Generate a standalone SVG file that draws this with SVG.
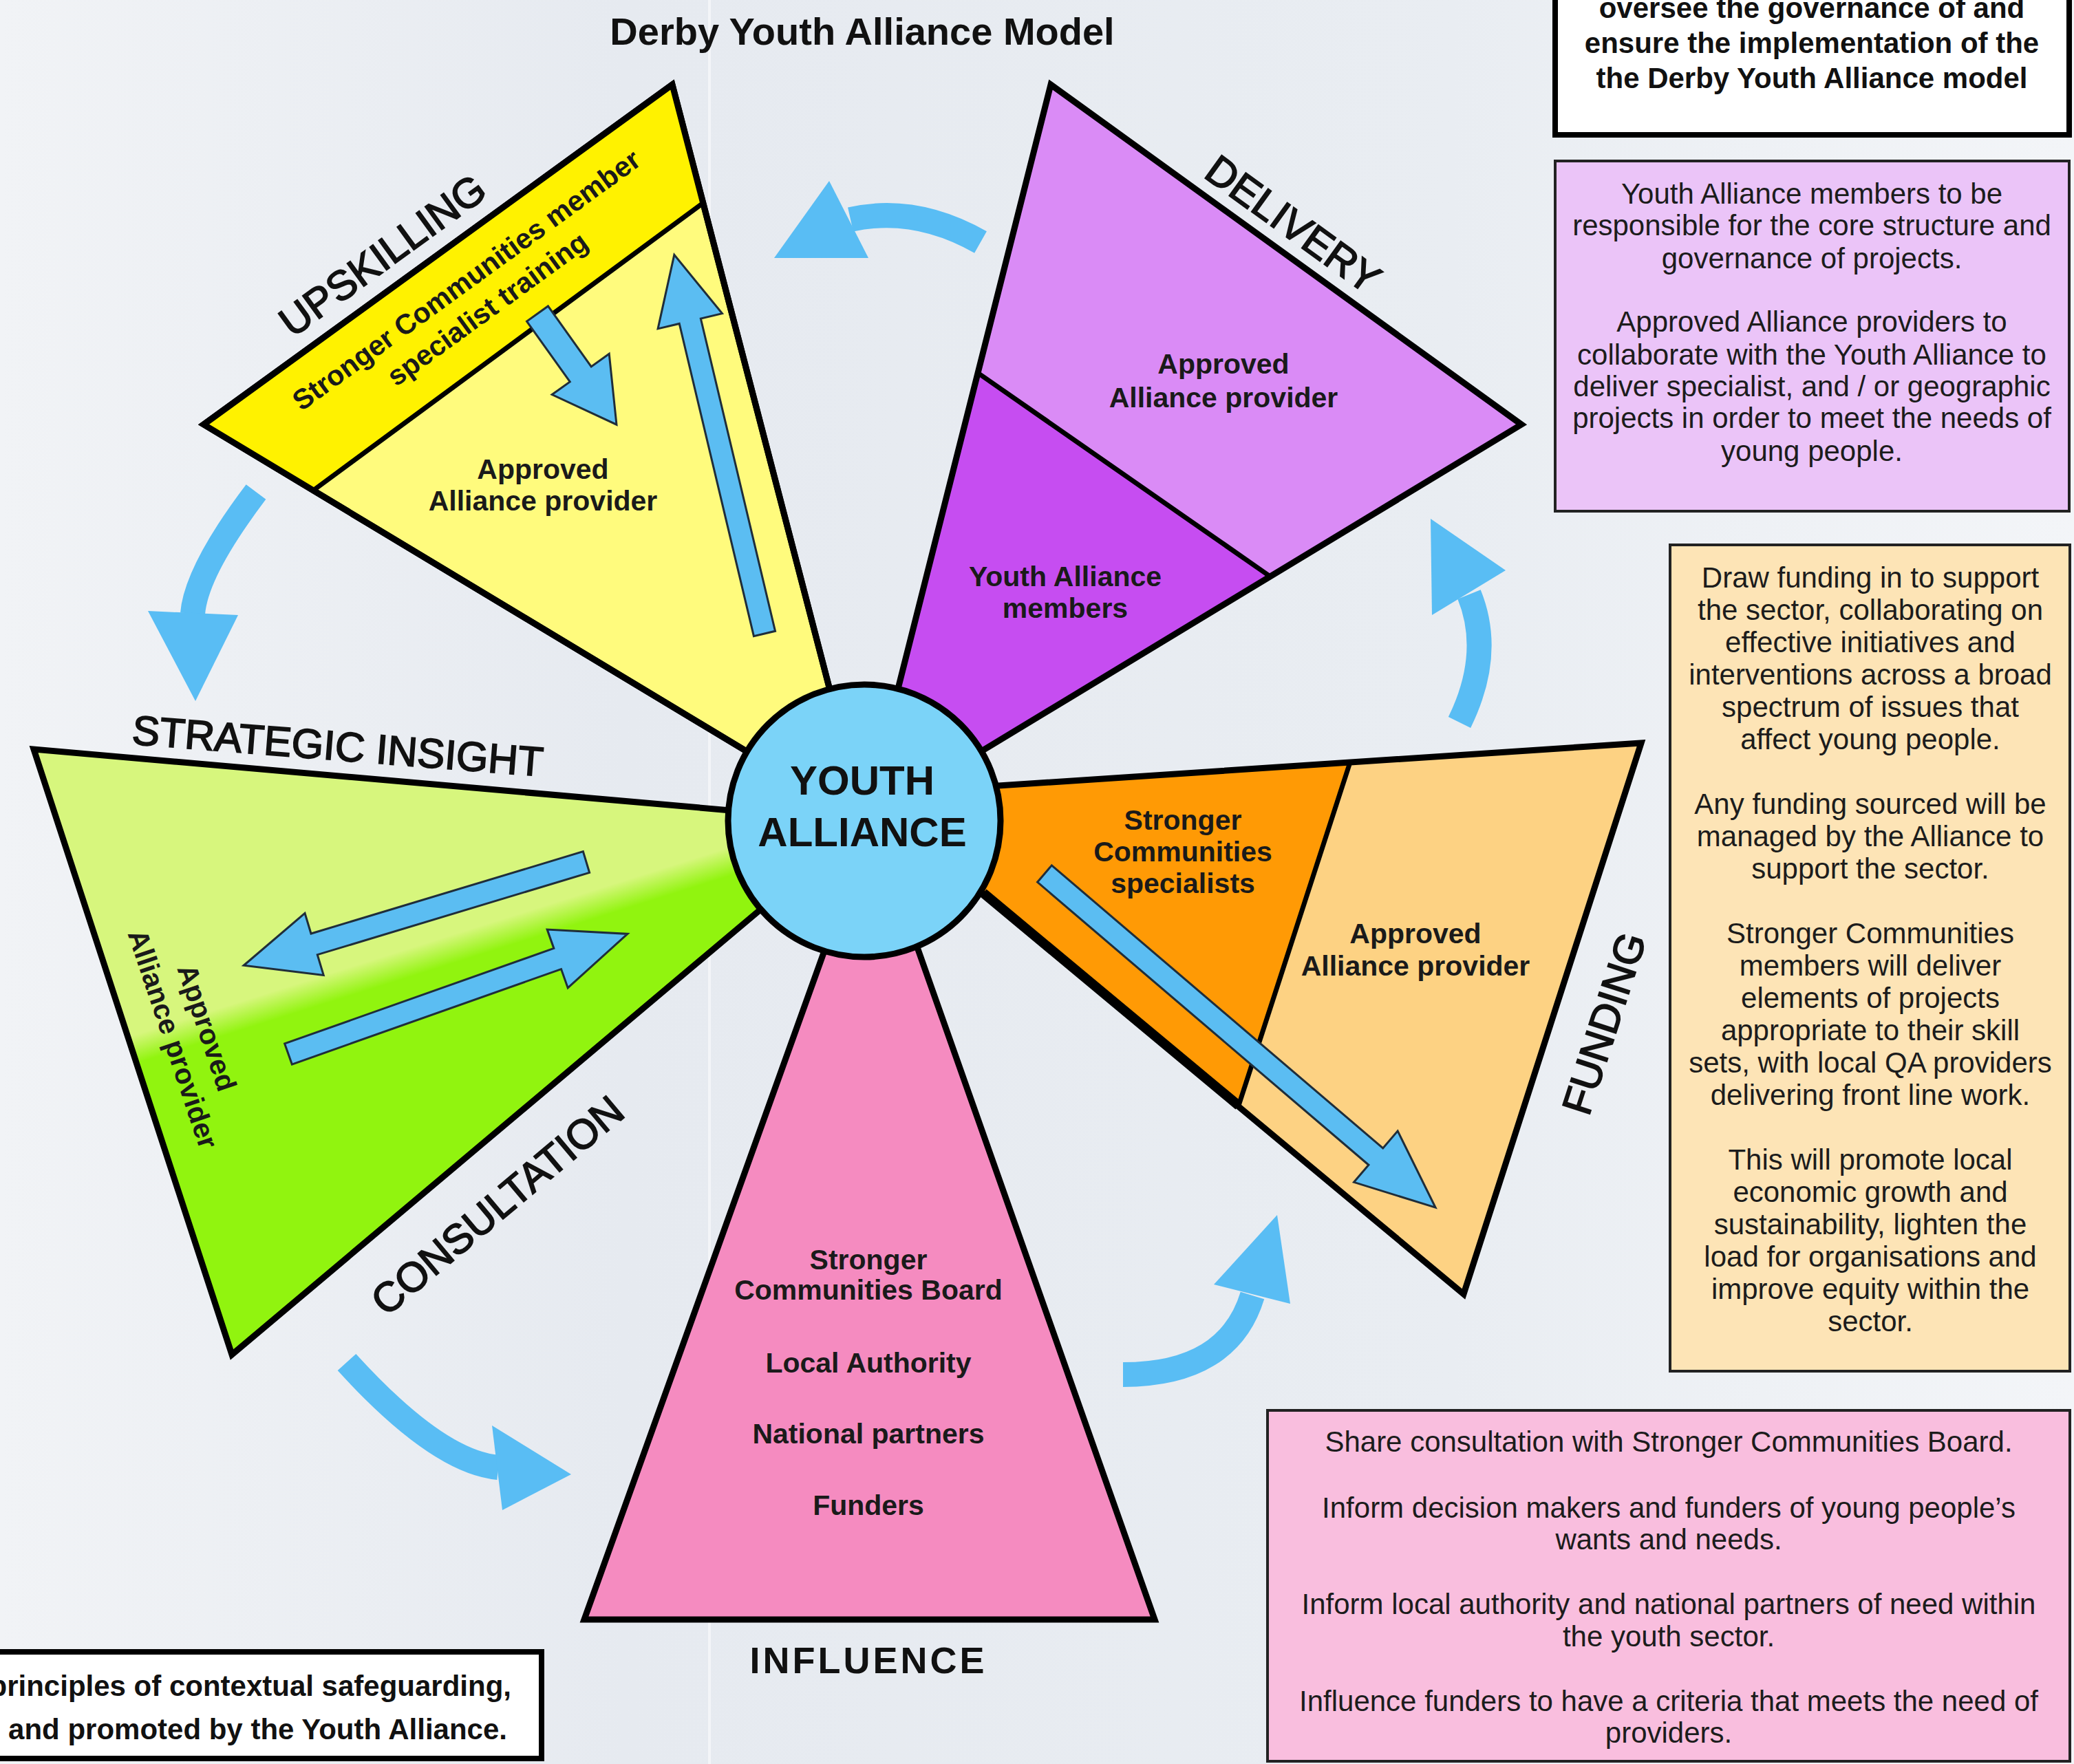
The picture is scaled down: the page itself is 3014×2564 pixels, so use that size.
<svg xmlns="http://www.w3.org/2000/svg" width="3014" height="2564" viewBox="0 0 3014 2564">
<defs>
<linearGradient id="bg" x1="0" y1="0" x2="1" y2="0">
<stop offset="0" stop-color="#F1F3F6"/><stop offset="0.3" stop-color="#E6EAF0"/><stop offset="0.7" stop-color="#E9EDF2"/><stop offset="1" stop-color="#F3F5F8"/>
</linearGradient>
<linearGradient id="gG" gradientUnits="userSpaceOnUse" x1="634" y1="1366" x2="646" y2="1404">
<stop offset="0" stop-color="#D7F67D"/><stop offset="1" stop-color="#91F40F"/>
</linearGradient>
<style>
.sec{font-family:"Liberation Sans",Arial,sans-serif;font-size:60px;fill:#111;stroke:#111;stroke-width:1.8;text-anchor:middle}
.in{font-family:"Liberation Sans",Arial,sans-serif;font-weight:bold;font-size:41px;fill:#1a1a1a;text-anchor:middle}
.bx{font-family:"Liberation Sans",Arial,sans-serif;font-size:42px;fill:#1c1c1c;text-anchor:middle}
.bb{font-family:"Liberation Sans",Arial,sans-serif;font-weight:bold;font-size:42px;fill:#111;text-anchor:middle}
.edge{stroke:#000;stroke-width:9;stroke-linejoin:miter}
.div{stroke:#000;stroke-width:7;fill:none}
.sa{fill:#5BBDF2;stroke:#1f2d3a;stroke-width:3;stroke-linejoin:miter}
.ca{fill:none;stroke:#59BDF4;stroke-width:36}
.ch{fill:#59BDF4}
</style>
</defs>
<rect x="0" y="0" width="3014" height="2564" fill="url(#bg)"/>
<line x1="1031" y1="0" x2="1031" y2="2564" stroke="#F3F5F8" stroke-width="4"/>

<text x="1253" y="65" font-family="Liberation Sans, Arial, sans-serif" font-weight="bold" font-size="56" fill="#111" text-anchor="middle">Derby Youth Alliance Model</text>

<g id="node-upskilling">
<polygon points="977,123 296,617 1256,1195" fill="#FFFB7D" class="edge"/>
<polygon points="296,617 977,123 1022,295 455,713" fill="#FFF200"/>
<line x1="455" y1="713" x2="1022" y2="295" class="div"/>
<polygon points="977,123 296,617 1256,1195" fill="none" class="edge"/>
<g transform="translate(693,428) rotate(-36)">
<text class="in" font-size="42" x="0" y="-12">Stronger Communities member</text>
<text class="in" font-size="42" x="0" y="40">specialist training</text>
</g>
<text class="in" x="789" y="696">Approved</text>
<text class="in" x="789" y="742">Alliance provider</text>
<text class="sec" font-size="62" transform="translate(555,370) rotate(-36)" x="0" y="22">UPSKILLING</text>
</g>

<g id="node-delivery">
<polygon points="1527,123 2211,617 1846,838 1421,542" fill="#DA8BF6"/>
<polygon points="1421,542 1846,838 1256,1195" fill="#C64DF1"/>
<line x1="1421" y1="542" x2="1846" y2="838" class="div"/>
<polygon points="1527,123 2211,617 1256,1195" fill="none" class="edge"/>
<text class="in" x="1778" y="543">Approved</text>
<text class="in" x="1778" y="592">Alliance provider</text>
<text class="in" x="1548" y="852">Youth Alliance</text>
<text class="in" x="1548" y="898">members</text>
<text class="sec" transform="translate(1880,325) rotate(35.8)" x="0" y="22">DELIVERY</text>
</g>

<g id="node-strategic-insight">
<polygon points="49,1089 337,1969 1256,1195" fill="url(#gG)" class="edge"/>
<g transform="translate(276,1502) rotate(71.5)">
<text class="in" x="0" y="-12">Approved</text>
<text class="in" x="0" y="40">Alliance provider</text>
</g>
<text class="sec" transform="translate(491,1083) rotate(4.5)" x="0" y="22">STRATEGIC INSIGHT</text>
<text class="sec" transform="translate(722,1751) rotate(-40)" x="0" y="22">CONSULTATION</text>
</g>

<g id="node-funding">
<polygon points="1961,1111 2385,1080 2127,1881 1800,1607" fill="#FDD283"/>
<polygon points="1256,1155 1961,1111 1800,1607" fill="#FF9A05"/>
<line x1="1961" y1="1111" x2="1800" y2="1607" class="div"/>
<line x1="1429" y1="1298" x2="1800" y2="1607" stroke="#000" stroke-width="14"/>
<polygon points="2385,1080 2127,1881 1256,1155" fill="none" class="edge"/>
<text class="in" x="1719" y="1206">Stronger</text>
<text class="in" x="1719" y="1252">Communities</text>
<text class="in" x="1719" y="1298">specialists</text>
<text class="in" x="2057" y="1371">Approved</text>
<text class="in" x="2057" y="1418">Alliance provider</text>
<text class="sec" transform="translate(2330,1487) rotate(-72)" x="0" y="22">FUNDING</text>
</g>

<g id="node-influence">
<polygon points="849,2354 1678,2354 1267,1190" fill="#F58BC0" class="edge"/>
<text class="in" x="1262" y="1845">Stronger</text>
<text class="in" x="1262" y="1889">Communities Board</text>
<text class="in" x="1262" y="1995">Local Authority</text>
<text class="in" x="1262" y="2098">National partners</text>
<text class="in" x="1262" y="2202">Funders</text>
<text x="1262" y="2432" font-family="Liberation Sans, Arial, sans-serif" font-weight="bold" font-size="54" letter-spacing="4" fill="#111" text-anchor="middle">INFLUENCE</text>
</g>

<g id="node-youth-alliance">
<circle cx="1256" cy="1193" r="198" fill="#7BD3F8" stroke="#000" stroke-width="9"/>
<text x="1253" y="1155" font-family="Liberation Sans, Arial, sans-serif" font-weight="bold" font-size="60" fill="#111" text-anchor="middle">YOUTH</text>
<text x="1253" y="1230" font-family="Liberation Sans, Arial, sans-serif" font-weight="bold" font-size="60" fill="#111" text-anchor="middle">ALLIANCE</text>
</g>

<g id="connectors">
<polygon class="sa" transform="translate(781,456) rotate(54.5)" points="0,-19 108,-19 108,-51 198,0 108,51 108,19 0,19"/>
<polygon class="sa" transform="translate(1111,921) rotate(-103.4)" points="0,-16 467,-16 467,-48 566,0 467,48 467,16 0,16"/>
<polygon class="sa" transform="translate(852,1253) rotate(163.2)" points="0,-16 413,-16 413,-47 520,0 413,47 413,16 0,16"/>
<polygon class="sa" transform="translate(419,1532) rotate(-19.5)" points="0,-16 415,-16 415,-45 523,0 415,45 415,16 0,16"/>
<polygon class="sa" transform="translate(1518,1270) rotate(40.5)" points="0,-16 633,-16 633,-49 747,0 633,49 633,16 0,16"/>

<path class="ca" stroke-width="34" d="M1425,352 Q1330,298 1236,319"/>
<polygon class="ch" points="1125,375 1205,263 1262,375"/>
<path class="ca" d="M372,715 Q285,830 280,892"/>
<polygon class="ch" points="215,888 346,894 284,1019"/>
<path class="ca" d="M504,1980 Q636,2125 724,2133"/>
<polygon class="ch" points="715,2072 730,2195 830,2143"/>
<path class="ca" d="M1632,1998 Q1785,1998 1820,1883"/>
<polygon class="ch" points="1764,1867 1875,1895 1856,1766"/>
<path class="ca" d="M2121,1050 Q2170,950 2135,864"/>
<polygon class="ch" points="2081,894 2188,829 2079,754"/>
</g>

<g id="box-governance">
<rect x="2260" y="-20" width="747" height="216" fill="#FFFFFF" stroke="#000" stroke-width="8"/>
<text class="bb" x="2633" y="26">oversee the governance of and</text>
<text class="bb" x="2633" y="77">ensure the implementation of the</text>
<text class="bb" x="2633" y="128">the Derby Youth Alliance model</text>
</g>

<g id="box-delivery">
<rect x="2260" y="234" width="747" height="509" fill="#EBC4F8" stroke="#222" stroke-width="4"/>
<text class="bx" x="2633" y="296">Youth Alliance members to be</text>
<text class="bx" x="2633" y="342">responsible for the core structure and</text>
<text class="bx" x="2633" y="390">governance of projects.</text>
<text class="bx" x="2633" y="482">Approved Alliance providers to</text>
<text class="bx" x="2633" y="530">collaborate with the Youth Alliance to</text>
<text class="bx" x="2633" y="576">deliver specialist, and / or geographic</text>
<text class="bx" x="2633" y="622">projects in order to meet the needs of</text>
<text class="bx" x="2633" y="670">young people.</text>
</g>

<g id="box-funding">
<rect x="2427" y="792" width="581" height="1201" fill="#FDE4B6" stroke="#222" stroke-width="4"/>
<text class="bx" x="2718" y="854">Draw funding in to support</text>
<text class="bx" x="2718" y="901">the sector, collaborating on</text>
<text class="bx" x="2718" y="948">effective initiatives and</text>
<text class="bx" x="2718" y="995">interventions across a broad</text>
<text class="bx" x="2718" y="1042">spectrum of issues that</text>
<text class="bx" x="2718" y="1089">affect young people.</text>
<text class="bx" x="2718" y="1183">Any funding sourced will be</text>
<text class="bx" x="2718" y="1230">managed by the Alliance to</text>
<text class="bx" x="2718" y="1277">support the sector.</text>
<text class="bx" x="2718" y="1371">Stronger Communities</text>
<text class="bx" x="2718" y="1418">members will deliver</text>
<text class="bx" x="2718" y="1465">elements of projects</text>
<text class="bx" x="2718" y="1512">appropriate to their skill</text>
<text class="bx" x="2718" y="1559">sets, with local QA providers</text>
<text class="bx" x="2718" y="1606">delivering front line work.</text>
<text class="bx" x="2718" y="1700">This will promote local</text>
<text class="bx" x="2718" y="1747">economic growth and</text>
<text class="bx" x="2718" y="1794">sustainability, lighten the</text>
<text class="bx" x="2718" y="1841">load for organisations and</text>
<text class="bx" x="2718" y="1888">improve equity within the</text>
<text class="bx" x="2718" y="1935">sector.</text>
</g>

<g id="box-influence">
<rect x="1842" y="2050" width="1166" height="510" fill="#F9BEDE" stroke="#222" stroke-width="4"/>
<text class="bx" x="2425" y="2110">Share consultation with Stronger Communities Board.</text>
<text class="bx" x="2425" y="2206">Inform decision makers and funders of young people’s</text>
<text class="bx" x="2425" y="2252">wants and needs.</text>
<text class="bx" x="2425" y="2346">Inform local authority and national partners of need within</text>
<text class="bx" x="2425" y="2393">the youth sector.</text>
<text class="bx" x="2425" y="2487">Influence funders to have a criteria that meets the need of</text>
<text class="bx" x="2425" y="2533">providers.</text>
</g>

<g id="box-safeguarding">
<rect x="-20" y="2401" width="807" height="155" fill="#FFFFFF" stroke="#000" stroke-width="8"/>
<text class="bb" x="743" y="2465" style="text-anchor:end">principles of contextual safeguarding,</text>
<text class="bb" x="737" y="2528" style="text-anchor:end">and promoted by the Youth Alliance.</text>
</g>
</svg>
